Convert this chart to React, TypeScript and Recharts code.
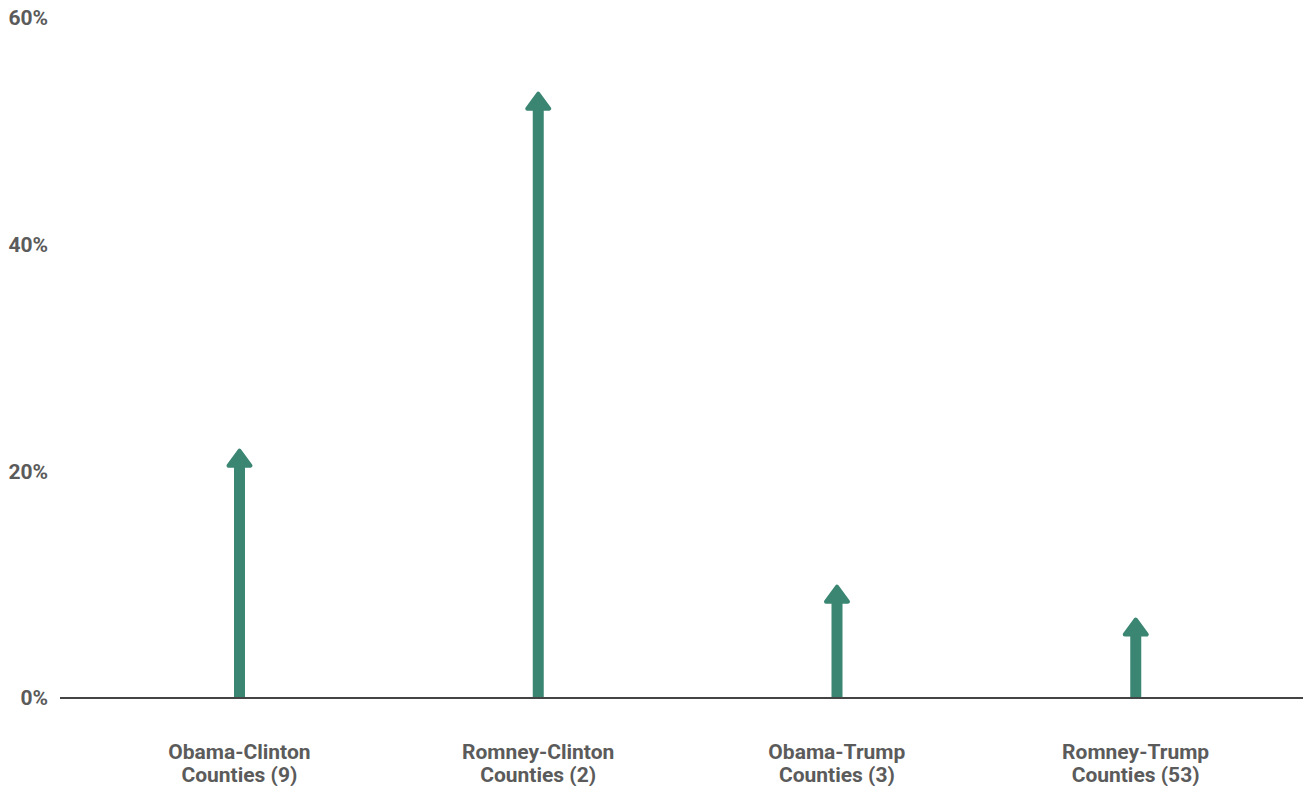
import React from "react";
import { BarChart, Bar, XAxis, YAxis } from "recharts";

const categories = ["Obama-Clinton|Counties (9)", "Romney-Clinton|Counties (2)", "Obama-Trump|Counties (3)", "Romney-Trump|Counties (53)"];
const values = [22, 53.5, 10, 7.1];
const yTicks = [0, 20, 40, 60];

const data = categories.map((c, i) => ({ name: c, value: values[i] }));

const GREEN = "#3b8672";
const TEXT = "#5b5b5b";

const Arrow = (props: any) => {
  const { x, y, width, height } = props;
  const cx = x + width / 2;
  const bottom = y + height;
  const headH = 17;
  const headW = 22;
  return (
    <g>
      <rect x={cx - 5.5} y={y + headH - 1} width={11} height={bottom - (y + headH - 1)} fill={GREEN} />
      <polygon
        points={`${cx},${y + 2} ${cx + headW / 2},${y + headH} ${cx - headW / 2},${y + headH}`}
        fill={GREEN}
        stroke={GREEN}
        strokeWidth={4}
        strokeLinejoin="round"
      />
    </g>
  );
};

const XTick = (props: any) => {
  const { x, y, payload } = props;
  const lines = String(payload.value).split("|");
  return (
    <text x={x} y={y} textAnchor="middle" fill={TEXT} fontFamily="Roboto" fontWeight={700} fontSize={21}>
      {lines.map((l, i) => (
        <tspan key={i} x={x} y={y + 53 + i * 23}>
          {l}
        </tspan>
      ))}
    </text>
  );
};

export default function App() {
  return (
    <div style={{ position: "absolute", left: 0, top: 0, width: 1303, height: 786, background: "#fff" }}>
      <BarChart width={1303} height={786} data={data} margin={{ top: 18, right: 0, bottom: 0, left: 0 }}>
        <XAxis
          dataKey="name"
          height={88}
          tick={<XTick />}
          tickLine={false}
          axisLine={{ stroke: "#444", strokeWidth: 2 }}
          padding={{ left: 30, right: 18 }}
          interval={0}
        />
        <YAxis
          domain={[0, 60]}
          ticks={yTicks}
          width={60}
          axisLine={false}
          tickLine={false}
          tickMargin={6}
          tickFormatter={(v: number) => `${v}%`}
          tick={{ fill: TEXT, fontFamily: "Roboto", fontWeight: 700, fontSize: 21 }}
        />
        <Bar dataKey="value" barSize={11} shape={<Arrow />} isAnimationActive={false} />
      </BarChart>
    </div>
  );
}
